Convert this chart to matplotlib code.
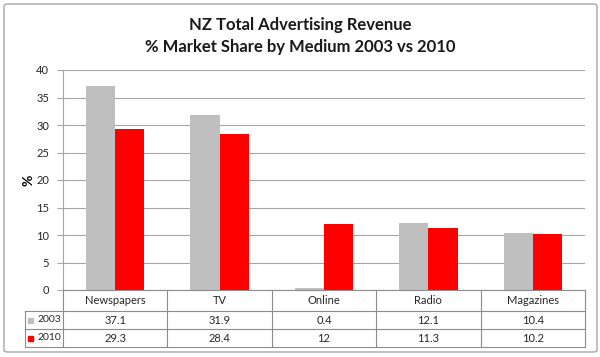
import matplotlib.pyplot as plt
from matplotlib.lines import Line2D
from matplotlib.patches import FancyBboxPatch, Rectangle

plt.rcParams["font.family"] = ["Lato", "DejaVu Sans"]

categories = ["Newspapers", "TV", "Online", "Radio", "Magazines"]
series_names = ["2003", "2010"]
share_2003 = [37.1, 31.9, 0.4, 12.1, 10.4]
share_2010 = [29.3, 28.4, 12, 11.3, 10.2]
labels_2003 = ["37.1", "31.9", "0.4", "12.1", "10.4"]
labels_2010 = ["29.3", "28.4", "12", "11.3", "10.2"]
colors = ["#BFBFBF", "#FF0000"]

W, H = 600, 357
fig = plt.figure(figsize=(6, 3.57), dpi=100)


def fx(px):
    return px / W


def fy(py):
    return 1 - py / H


# outer chart border
fig.add_artist(FancyBboxPatch((fx(4), fy(352)), fx(593), 348 / H,
                              boxstyle="round,pad=0,rounding_size=0.006",
                              transform=fig.transFigure, fill=False,
                              edgecolor="#A6A6A6", lw=1.0))

left, right, top, bottom = 63, 585, 70, 290
ax = fig.add_axes([fx(left), fy(bottom), fx(right - left), (bottom - top) / H])

x = list(range(len(categories)))
bw = 0.28
ax.bar([i - bw / 2 for i in x], share_2003, width=bw, color=colors[0], zorder=3)
ax.bar([i + bw / 2 for i in x], share_2010, width=bw, color=colors[1], zorder=3)

ax.set_xlim(-0.5, len(categories) - 0.5)
ax.set_ylim(0, 40)
ax.set_yticks(range(0, 41, 5))
ax.set_xticks([])
ax.grid(axis="y", color="#A6A6A6", lw=0.8, zorder=0)
for s in ["top", "right", "bottom"]:
    ax.spines[s].set_visible(False)
ax.spines["left"].set_color("#A6A6A6")
ax.tick_params(axis="y", length=4, color="#A6A6A6", labelsize=8,
               labelcolor="#262626", pad=6)
ax.set_ylabel("%", fontsize=10, fontweight="bold", labelpad=1)

fig.text(0.5, fy(25), "NZ Total Advertising Revenue", ha="center", va="center",
         fontsize=12, fontweight="bold", color="#1A1A1A")
fig.text(0.5, fy(47), "% Market Share by Medium 2003 vs 2010", ha="center",
         va="center", fontsize=12, fontweight="bold", color="#1A1A1A")

# data table below the plot
rows = [290, 311, 329, 347]
tleft = 25
lc = "#8C8C8C"
col_w = (right - left) / len(categories)
cols = [left + i * col_w for i in range(len(categories) + 1)]


def hline(y, x0, x1):
    fig.add_artist(Line2D([fx(x0), fx(x1)], [fy(y), fy(y)], color=lc, lw=0.8,
                          transform=fig.transFigure))


def vline(xp, y0, y1):
    fig.add_artist(Line2D([fx(xp), fx(xp)], [fy(y0), fy(y1)], color=lc, lw=0.8,
                          transform=fig.transFigure))


hline(rows[0], left, right)
for r in rows[1:]:
    hline(r, tleft, right)
for c in cols:
    vline(c, rows[0], rows[3])
vline(tleft, rows[1], rows[3])

for i, name in enumerate(categories):
    cx = (cols[i] + cols[i + 1]) / 2
    fig.text(fx(cx), fy((rows[0] + rows[1]) / 2), name, ha="center", va="center",
             fontsize=8, color="#262626")
    fig.text(fx(cx), fy((rows[1] + rows[2]) / 2), labels_2003[i], ha="center",
             va="center", fontsize=8, color="#262626")
    fig.text(fx(cx), fy((rows[2] + rows[3]) / 2), labels_2010[i], ha="center",
             va="center", fontsize=8, color="#262626")

for k, name in enumerate(series_names):
    ymid = (rows[k + 1] + rows[k + 2]) / 2
    fig.add_artist(Rectangle((fx(28), fy(ymid + 2.5)), fx(5), 5 / H,
                             transform=fig.transFigure, color=colors[k]))
    fig.text(fx(61), fy(ymid), name, ha="right", va="center", fontsize=7.5,
             color="#262626")

fig.savefig("out.png", dpi=100)
